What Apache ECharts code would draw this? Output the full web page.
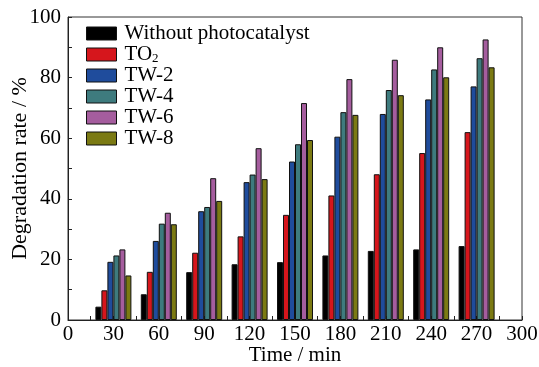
<!DOCTYPE html>
<html><head><meta charset="utf-8">
<script src="https://cdn.jsdelivr.net/npm/echarts@6/dist/echarts.min.js"></script>
<style>html,body{margin:0;padding:0;background:#fff}#c{width:539px;height:367px}</style>
</head><body><div id="c"></div>
<script>
var times = [30, 60, 90, 120, 150, 180, 210, 240, 270];
var seriesNames = ['Without photocatalyst', 'TO{sub|2}', 'TW-2', 'TW-4', 'TW-6', 'TW-8'];
var withoutCat = [4.4, 8.5, 15.8, 18.4, 19.1, 21.3, 22.8, 23.3, 24.4];
var to2 = [9.8, 15.9, 22.2, 27.6, 34.7, 41.1, 48.1, 55.1, 62.0];
var tw2 = [19.2, 26.1, 35.9, 45.5, 52.3, 60.5, 68.0, 72.8, 77.1];
var tw4 = [21.3, 31.8, 37.3, 48.0, 58.0, 68.6, 75.9, 82.7, 86.4];
var tw6 = [23.3, 35.4, 46.8, 56.7, 71.6, 79.5, 85.9, 90.0, 92.6];
var tw8 = [14.7, 31.6, 39.3, 46.5, 59.4, 67.7, 74.2, 80.1, 83.4];
var colors = ['#000000', '#d6161c', '#1f4c9c', '#3e7b7e', '#a55d9e', '#7b7a13'];
var allData = [withoutCat, to2, tw2, tw4, tw6, tw8];
var font = '"Liberation Serif", "Times New Roman", serif';

var series = allData.map(function (vals, i) {
  return {
    name: seriesNames[i],
    type: 'bar',
    barWidth: 6,
    barGap: '0%',
    itemStyle: { color: colors[i], borderColor: '#111', borderWidth: 1 },
    data: vals.map(function (v, k) { return [times[k], v]; })
  };
});

var chart = echarts.init(document.getElementById('c'), null, { renderer: 'canvas' });
chart.setOption({
  animation: false,
  grid: { left: 68, right: 17, top: 17, bottom: 47, containLabel: false, outerBoundsMode: 'none',
    show: true, borderColor: '#333', borderWidth: 1, backgroundColor: 'transparent' },
  legend: {
    orient: 'vertical', left: 81, top: 18, itemWidth: 30, itemHeight: 13, itemGap: 0,
    icon: 'rect',
    data: seriesNames,
    textStyle: { fontFamily: font, fontSize: 21, lineHeight: 21, color: '#000', padding: [0, 0, 0, 3],
      rich: { sub: { fontFamily: font, fontSize: 13, lineHeight: 10, verticalAlign: 'bottom', color: '#000' } } },
    itemStyle: { borderColor: '#111', borderWidth: 1 }
  },
  xAxis: {
    type: 'value', min: 0, max: 300, interval: 30,
    name: 'Time / min', nameLocation: 'middle', nameGap: 25, nameMoveOverlap: false,
    nameTextStyle: { fontFamily: font, fontSize: 21, color: '#000' },
    axisLine: { show: true, lineStyle: { color: '#222', width: 1 } },
    axisTick: { show: true, inside: true, length: 4, lineStyle: { color: '#222' } },
    minorTick: { show: true, splitNumber: 2, length: 4, lineStyle: { color: '#222' } },
    axisLabel: { fontFamily: font, fontSize: 21, color: '#000', margin: 4 },
    splitLine: { show: false }
  },
  yAxis: {
    type: 'value', min: 0, max: 100, interval: 20,
    name: 'Degradation rate / %', nameLocation: 'middle', nameGap: 37, nameMoveOverlap: false,
    nameTextStyle: { fontFamily: font, fontSize: 22, color: '#000' },
    axisLine: { show: true, lineStyle: { color: '#222', width: 1 } },
    axisTick: { show: true, inside: true, length: 4, lineStyle: { color: '#222' } },
    minorTick: { show: true, splitNumber: 2, length: 4, lineStyle: { color: '#222' } },
    axisLabel: { fontFamily: font, fontSize: 21, color: '#000', margin: 7 },
    splitLine: { show: false }
  },
  series: series
});
</script></body></html>
